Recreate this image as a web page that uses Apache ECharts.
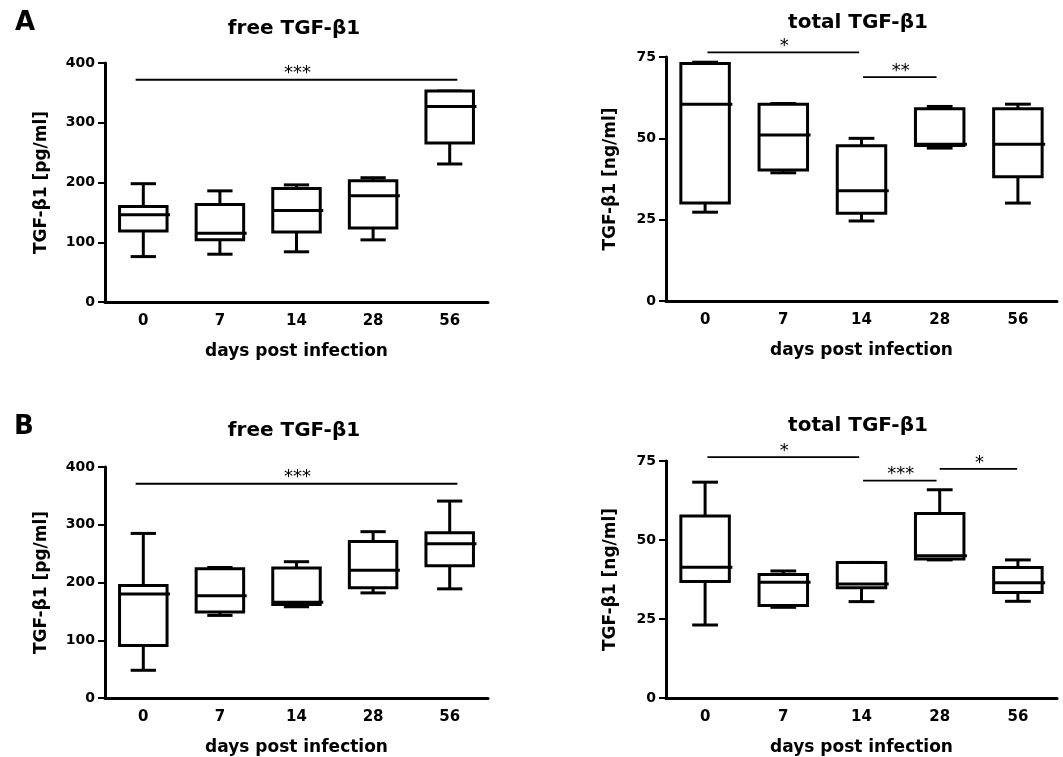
<!DOCTYPE html>
<html>
<head>
<meta charset="utf-8">
<script src="https://cdn.jsdelivr.net/npm/echarts@6/dist/echarts.min.js"></script>
<style>
html,body{margin:0;padding:0;background:#fff;}
#c{width:1063px;height:757px;}
</style>
</head>
<body>
<div id="c"></div>
<script>
// ---- data ----
const categories = ['0', '7', '14', '28', '56'];
// each row: [min, Q1, median, Q3, max]
const freeA = [
  [76, 119, 146, 160, 198],
  [80, 104, 115, 163, 186],
  [84, 117, 153, 190, 196],
  [104, 124, 178, 203, 208],
  [231, 266, 327, 353, 353]
];
const totalA = [
  [27.3, 30.1, 60.5, 73.0, 73.4],
  [39.4, 40.3, 51.0, 60.5, 60.7],
  [24.6, 27.0, 33.9, 47.7, 50.0],
  [47.0, 47.8, 48.2, 59.1, 59.8],
  [30.1, 38.2, 48.2, 59.1, 60.5]
];
const freeB = [
  [48, 91, 180, 195, 285],
  [143, 149, 177, 224, 226],
  [158, 162, 166, 225, 236],
  [182, 191, 221, 271, 288],
  [189, 229, 267, 286, 341]
];
const totalB = [
  [23.1, 36.9, 41.4, 57.6, 68.3],
  [28.7, 29.3, 36.6, 39.1, 40.2],
  [30.5, 34.9, 36.1, 42.9, 42.9],
  [43.7, 44.0, 45.0, 58.4, 65.9],
  [30.6, 33.4, 36.5, 41.3, 43.7]
];
// significance bars: [fromCategoryPos, toCategoryPos, yValue, label]
const sigFreeA = [[-0.1, 4.1, 372, '***']];
const sigTotalA = [[0.03, 1.97, 76.4, '*'], [2.02, 2.96, 68.8, '**']];
const sigFreeB = [[-0.1, 4.1, 371, '***']];
const sigTotalB = [[0.03, 1.97, 76.2, '*'], [2.02, 2.96, 68.8, '***'], [3.0, 3.99, 72.5, '*']];
const freeTicks = {min: 0, max: 400, interval: 100};
const totalTicks = {min: 0, max: 75, interval: 25};

// ---- layout ----
const FONT = 'DejaVu Sans';
const grids = [
  {left: 105, right: 575, top: 63, bottom: 455},
  {left: 666, right: 6, top: 57, bottom: 456},
  {left: 105, right: 575, top: 467, bottom: 52},
  {left: 666, right: 6, top: 461, bottom: 53}
];
const yNames = ['TGF-β1 [pg/ml]', 'TGF-β1 [ng/ml]', 'TGF-β1 [pg/ml]', 'TGF-β1 [ng/ml]'];
const yTicks = [freeTicks, totalTicks, freeTicks, totalTicks];
const nameGaps = [55, 47, 55, 47];

const xAxes = grids.map((g, i) => ({
  type: 'category', gridIndex: i, data: categories, boundaryGap: true,
  axisLine: {show: true, lineStyle: {color: '#000', width: 3}},
  axisTick: {show: false},
  axisLabel: {color: '#000', fontFamily: FONT, fontWeight: 'bold', fontSize: 15, margin: 12},
  name: 'days post infection', nameLocation: 'middle', nameGap: 41,
  nameTextStyle: {color: '#000', fontFamily: FONT, fontWeight: 'bold', fontSize: 17}
}));
const yAxes = grids.map((g, i) => ({
  type: 'value', gridIndex: i, min: yTicks[i].min, max: yTicks[i].max, interval: yTicks[i].interval,
  axisLine: {show: true, lineStyle: {color: '#000', width: 3}},
  axisTick: {show: true, length: 7, lineStyle: {color: '#000', width: 2}},
  splitLine: {show: false},
  axisLabel: {color: '#000', fontFamily: FONT, fontWeight: 'bold', fontSize: 14, margin: 10},
  name: yNames[i], nameLocation: 'middle', nameGap: nameGaps[i], nameRotate: 90,
  nameTextStyle: {color: '#000', fontFamily: FONT, fontWeight: 'bold', fontSize: 17}
}));

function boxSeries(rows, i) {
  return {
    type: 'custom', xAxisIndex: i, yAxisIndex: i,
    data: rows.map((r, k) => [k, r[0], r[1], r[2], r[3], r[4]]),
    renderItem: function (params, api) {
      const k = api.value(0);
      const pMin = api.coord([k, api.value(1)]);
      const pQ1 = api.coord([k, api.value(2)]);
      const pMed = api.coord([k, api.value(3)]);
      const pQ3 = api.coord([k, api.value(4)]);
      const pMax = api.coord([k, api.value(5)]);
      const band = api.size([1, 0])[0];
      const half = band * 0.31;
      const capHalf = band * 0.165;
      const cx = pMed[0];
      const ls = {stroke: '#000', lineWidth: 3, fill: null};
      return {
        type: 'group',
        children: [
          {type: 'line', shape: {x1: cx, y1: pQ3[1], x2: cx, y2: pMax[1]}, style: ls},
          {type: 'line', shape: {x1: cx, y1: pQ1[1], x2: cx, y2: pMin[1]}, style: ls},
          {type: 'line', shape: {x1: cx - capHalf, y1: pMax[1], x2: cx + capHalf, y2: pMax[1]}, style: ls},
          {type: 'line', shape: {x1: cx - capHalf, y1: pMin[1], x2: cx + capHalf, y2: pMin[1]}, style: ls},
          {type: 'rect', shape: {x: cx - half, y: pQ3[1], width: half * 2, height: pQ1[1] - pQ3[1]},
            style: {stroke: '#000', lineWidth: 3, fill: '#fff'}},
          {type: 'line', shape: {x1: cx - half, y1: pMed[1], x2: cx + half + 3, y2: pMed[1]}, style: ls}
        ]
      };
    }
  };
}

function sigSeries(bars, i) {
  return {
    type: 'custom', xAxisIndex: i, yAxisIndex: i, clip: false,
    data: bars.map((b) => [b[0], b[1], b[2]]),
    renderItem: function (params, api) {
      const bar = bars[params.dataIndex];
      const p0 = api.coord([0, bar[2]]);
      const band = api.size([1, 0])[0];
      const x1 = p0[0] + bar[0] * band;
      const x2 = p0[0] + bar[1] * band;
      const y = p0[1];
      return {
        type: 'group',
        children: [
          {type: 'line', shape: {x1: x1, y1: y, x2: x2, y2: y}, style: {stroke: '#000', lineWidth: 1.8}},
          {type: 'text', x: (x1 + x2) / 2 + 1, y: y - 6,
            style: {text: bar[3], fill: '#000', font: 'normal 18px "' + FONT + '"',
              align: 'center', verticalAlign: 'middle', textAlign: 'center', textVerticalAlign: 'middle'}}
        ]
      };
    }
  };
}

function txt(text, x, y, size) {
  return {type: 'text', x: x, y: y, silent: true,
    style: {text: text, fill: '#000', font: 'bold ' + size + 'px "' + FONT + '"',
      align: 'center', verticalAlign: 'middle', textAlign: 'center', textVerticalAlign: 'middle'}};
}

const chart = echarts.init(document.getElementById('c'), null, {renderer: 'canvas'});
chart.setOption({
  backgroundColor: '#fff',
  animation: false,
  grid: grids,
  xAxis: xAxes,
  yAxis: yAxes,
  series: [
    boxSeries(freeA, 0), boxSeries(totalA, 1), boxSeries(freeB, 2), boxSeries(totalB, 3),
    sigSeries(sigFreeA, 0), sigSeries(sigTotalA, 1), sigSeries(sigFreeB, 2), sigSeries(sigTotalB, 3)
  ],
  graphic: [
    txt('A', 25, 23, 26),
    txt('B', 24, 427, 26),
    txt('free TGF-β1', 294, 29, 20),
    txt('total TGF-β1', 858, 23, 20),
    txt('free TGF-β1', 294, 431, 20),
    txt('total TGF-β1', 858, 426, 20)
  ]
});
</script>
</body>
</html>
